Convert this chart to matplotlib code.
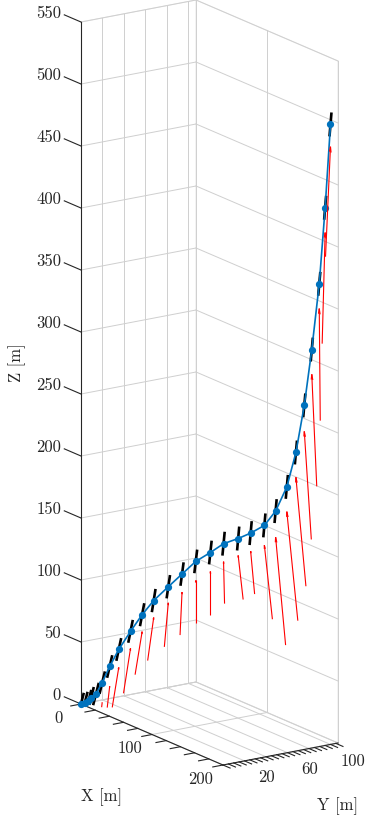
import numpy as np
import matplotlib
matplotlib.use("Agg")
import matplotlib.pyplot as plt
from mpl_toolkits.mplot3d import proj3d

plt.rcParams['font.family'] = ['cmr10', 'DejaVu Serif']
plt.rcParams['axes.formatter.use_mathtext'] = True

# ---- data: trajectory (m) ----
traj_x = [0, 3, 6, 8, 12, 17, 23, 30.5, 39.5, 49, 58.5, 70, 81, 92, 103.5,
          114.5, 126, 136, 147, 156, 165, 172.5, 179, 185, 191, 195.5, 200]
traj_y = [0, 1.5, 3, 4, 6, 8.5, 11.5, 15, 20, 24.5, 29, 35, 40.5, 46, 52,
          57, 63, 68, 73.5, 78, 82.5, 86, 89.5, 92.5, 95.5, 98, 100]
traj_z = [0, 1.3, 3.3, 6, 10, 20, 34, 49, 65, 80, 93, 106, 118, 130, 139,
          148, 154, 160, 168, 181, 202, 231, 270, 316, 370, 432, 500]
# body axis (black bars): half-vector components
bar_dx = [4, 4, 4, 4, 4, 3.8, 3.6, 3.4, 3.2, 3.0, 2.6, 2.4, 2.2, 2.0, 1.8,
          1.6, 1.5, 1.5, 1.5, 1.5, 1.5, 1.5, 1.5, 1.5, 1.5, 1.4, 1.4]
bar_dz = 10
# red vectors: gap below point, and components
red_gap = [15, 15, 15, 15, 15, 16, 16, 14.5, 13.7, 13.7, 13.7, 13, 14.5, 15.3,
           15.3, 14.5, 13.7, 14.5, 16, 21, 20, 20, 21, 20, 20, 20, 18]
red_u = [7, 7, 7, 7, 7, 7, 7, 9.9, 9.9, 9.9, 8.5, 5.6, 2.8, 0, 0, -1.4, -7,
         -5.6, -11.3, -14.1, -15.5, -14.1, -9.9, -7, -1.4, 4.2, 7]
red_w = [36, 36, 36, 36, 36, 36.4, 36.4, 37.1, 38.7, 37.1, 36.8, 36.9, 35.4,
         34.7, 34.7, 33.5, 33.8, 33.3, 56.9, 83.6, 84.1, 84.4, 84.7, 88.6, 90,
         90.6, 90.4]

x_ticks = [0, 100, 200]
x_ticklabels = ['0', '100', '200']
x_minor = [0, 20, 40, 60, 80, 100, 120, 140, 160, 180, 200]
y_ticks = [0, 20, 40, 60, 80, 100]
y_labeled = [20, 60, 100]
y_minor = [0, 5, 10, 15, 20, 25, 30, 35, 40, 45, 50, 55, 60, 65, 70, 75, 80,
           85, 90, 95, 100, 105]
z_ticks = [0, 50, 100, 150, 200, 250, 300, 350, 400, 450, 500, 550]
x_lim, y_lim, z_lim = (0, 200), (0, 107), (0, 550)

AXC = '#262626'
GRC = '#cfcfcf'
W, H = 365, 823
fig = plt.figure(figsize=(W / 100, H / 100), dpi=100)
s = 1000.0
cx, cy = 209.5, H - 382.5
f = 0.095 / 0.185
ax = fig.add_axes([(cx - f * s) / W, (cy - f * s) / H, s / W, s / H],
                  projection='3d', computed_zorder=False)
ax.set_proj_type('ortho')
ax.view_init(elev=16.66, azim=-33.72)
ax.set_box_aspect((255.8, 138.3, 711.9), zoom=746.5 / s)
ax.set_xlim(*x_lim)
ax.set_ylim(*y_lim)
ax.set_zlim(*z_lim)
ax.grid(False)
ax.set_xticks([])
ax.set_yticks([])
ax.set_zticks([])

for axis in (ax.xaxis, ax.yaxis, ax.zaxis):
    axis.pane.fill = False
    axis.pane.set_edgecolor(GRC)
    axis.pane.set_linewidth(0.7)
    axis.line.set_visible(False)
    axis.label.set_visible(False)
    axis.offsetText.set_visible(False)


def clip_seg(p0, p1, zmin=0.0):
    p0 = np.asarray(p0, float)
    p1 = np.asarray(p1, float)
    if p0[2] < zmin and p1[2] < zmin:
        return None
    if p0[2] < zmin:
        t = (zmin - p0[2]) / (p1[2] - p0[2])
        p0 = p0 + t * (p1 - p0)
    if p1[2] < zmin:
        t = (zmin - p1[2]) / (p0[2] - p1[2])
        p1 = p1 + t * (p0 - p1)
    return p0, p1


x0, x1 = x_lim
y0, y1 = y_lim
z0, z1 = z_lim

# ---- grid on the back walls and floor ----
gk = dict(color=GRC, lw=0.7, zorder=0.5)
for yv in y_ticks:
    ax.plot([x0, x0], [yv, yv], [z0, z1], **gk)
    ax.plot([x0, x1], [yv, yv], [z0, z0], **gk)
for xv in x_ticks:
    ax.plot([xv, xv], [y1, y1], [z0, z1], **gk)
    ax.plot([xv, xv], [y0, y1], [z0, z0], **gk)
for zv in z_ticks:
    ax.plot([x0, x0], [y0, y1], [zv, zv], **gk)
    ax.plot([x0, x1], [y1, y1], [zv, zv], **gk)

# ---- axis lines, ticks and tick labels (MATLAB style) ----
kw = dict(color=AXC, lw=0.8, zorder=1)
ax.plot([x0, x1], [y0, y0], [z0, z0], **kw)
ax.plot([x1, x1], [y0, y1], [z0, z0], **kw)
ax.plot([x0, x0], [y0, y0], [z0, z1], **kw)
for xv in x_minor:
    ax.plot([xv, xv], [y0, y0 - 9.5], [z0, z0], **kw)
for yv in y_minor:
    ax.plot([x1, x1 + 10], [yv, yv], [z0, z0], **kw)
for zv in z_ticks:
    ax.plot([x0, x0 - 23.5], [y0, y0], [zv, zv], **kw)

M = ax.get_proj()
tfont = dict(fontsize=12, color=AXC)


def label3d(x, y, z, text, **k):
    px, py, _ = proj3d.proj_transform(x, y, z, M)
    ax.text2D(px, py, text, transform=ax.transData, **k)


for xv, lab in zip(x_ticks, x_ticklabels):
    label3d(xv, y0 - 20.5, z0 - 7.9, lab, ha='center', va='center', **tfont)
for yv in y_labeled:
    label3d(x1 + 31, yv, z0 - 6, str(yv), ha='center', va='center', **tfont)
for zv in z_ticks:
    label3d(x0 - 28, y0, zv, str(zv), ha='right', va='center', **tfont)

# ---- data marks ----
tx, ty, tz = map(np.asarray, (traj_x, traj_y, traj_z))
for i in range(len(tx)):
    p = np.array([tx[i], ty[i], tz[i]])
    d = np.array([bar_dx[i], 0.0, bar_dz])
    seg = clip_seg(p - d, p + d)
    if seg is not None:
        a, b = seg
        ax.plot([a[0], b[0]], [a[1], b[1]], [a[2], b[2]], color='black',
                lw=1.9, solid_capstyle='butt', zorder=2)

ax.plot(tx, ty, tz, '-o', color='#0072BD', lw=1.2, ms=4.2, zorder=3)

for i in range(len(tx)):
    tip = np.array([tx[i], ty[i], tz[i] - red_gap[i]])
    vec = np.array([red_u[i], 0.0, red_w[i]])
    seg = clip_seg(tip - vec, tip)
    if seg is None:
        continue
    b0, b1 = seg
    v = b1 - b0
    ax.quiver(b0[0], b0[1], b0[2], v[0], v[1], v[2], color='red', lw=0.8,
              arrow_length_ratio=0.05, zorder=4)

fig.text(102 / W, 1 - 797 / H, 'X [m]', ha='center', va='center',
         fontsize=12, color=AXC)
fig.text(338 / W, 1 - 806 / H, 'Y [m]', ha='center', va='center',
         fontsize=12, color=AXC)
fig.text(17 / W, 1 - 363 / H, 'Z [m]', ha='center', va='center',
         rotation=90, fontsize=12, color=AXC)

fig.savefig('out.png', dpi=100)
